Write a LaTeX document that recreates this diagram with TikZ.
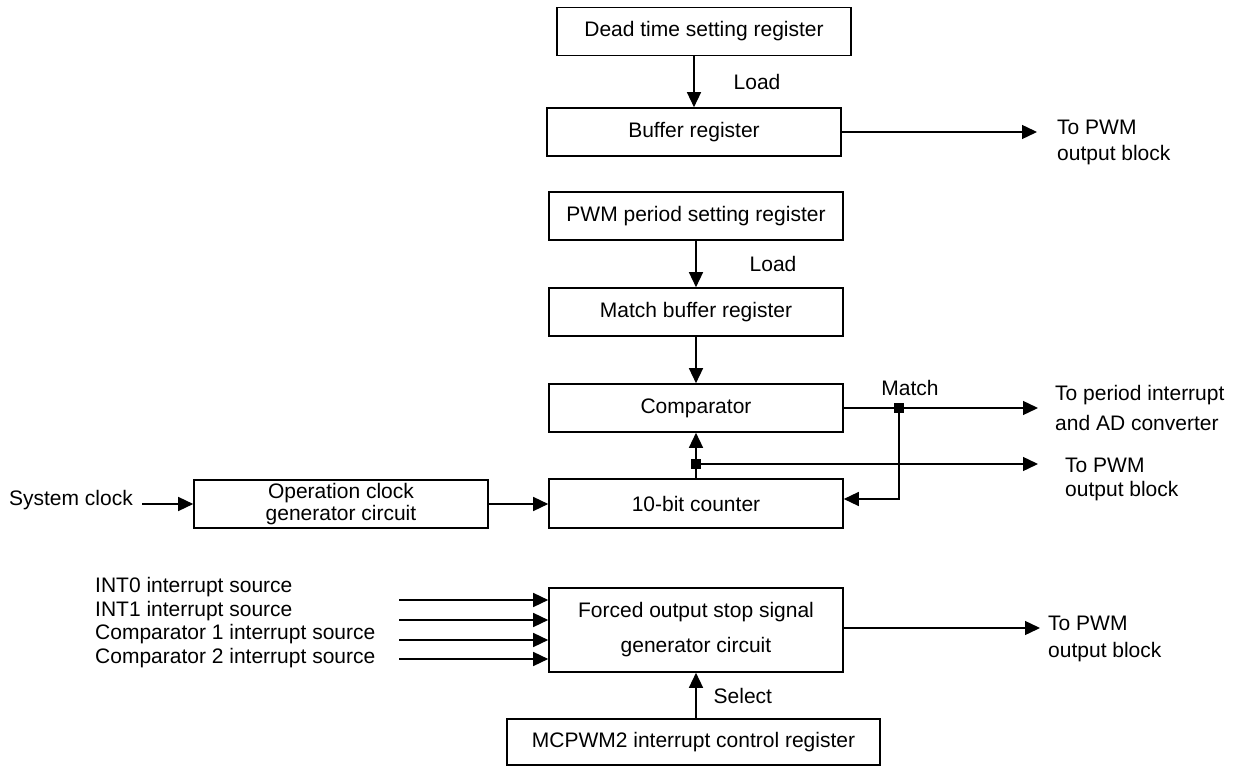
\documentclass[tikz,border=0pt]{standalone}
\usepackage{fontspec}
\setmainfont{Liberation Sans}
\usetikzlibrary{arrows.meta}
\begin{document}
\begin{tikzpicture}[x=1pt, y=-1pt,
  every node/.style={font=\fontsize{21}{24}\selectfont},
  blk/.style={draw, line width=1.6pt, minimum width=294pt, minimum height=48pt, inner sep=0pt, align=center},
  arr/.style={line width=1.4pt, -{Triangle[length=15pt, width=14pt]}},
  wire/.style={line width=1.4pt},
  dot/.style={fill, minimum size=10pt, inner sep=0pt},
  lbl/.style={inner sep=0pt, anchor=west, align=left}]
\useasboundingbox (0,0) rectangle (1243,767);

% register and circuit blocks
\node[blk] (dead)   at (704,31.5) {Dead time setting register};
\node[blk] (buf)    at (694,132)  {Buffer register};
\node[blk] (pwmp)   at (696,216)  {PWM period setting register};
\node[blk] (mbuf)   at (696,312)  {Match buffer register};
\node[blk] (comp)   at (696,408)  {Comparator};
\node[blk, minimum height=49pt] (cnt) at (696,503.5) {10-bit counter};
\node[blk, font=\fontsize{21}{21.5}\selectfont] (opclk) at (341,504) {Operation clock\\generator circuit};
\node[blk, minimum height=84pt, font=\fontsize{21}{35}\selectfont] (forced) at (696,630) {Forced output stop signal\\generator circuit};
\node[blk, minimum width=373pt, minimum height=46pt] (mcpwm) at (693.5,742) {MCPWM2 interrupt control register};

% dead time path
\draw[arr] (dead.south -| buf.north) -- node[right=39pt, inner sep=0pt] {Load} (buf.north);
\coordinate (bufout) at (1037,132);
\draw[arr] (buf.east) -- (bufout);
\node[lbl, font=\fontsize{21}{26}\selectfont] (bufl) at (1057,142) {To PWM\\output block};

% period path
\draw[arr] (pwmp.south) -- node[right=53pt, inner sep=0pt] {Load} (mbuf.north);
\draw[arr] (mbuf.south) -- (comp.north);

% comparator match output
\node[dot] (jm) at (899,408) {};
\node[inner sep=0pt] (matchl) at (910,388) {Match};
\coordinate (compout) at (1038,408);
\draw[wire] (comp.east) -- (jm);
\draw[arr] (jm) -- (compout);
\node[lbl, font=\fontsize{21}{30}\selectfont] (compl) at (1055,408) {To period interrupt\\and AD converter};
\coordinate (mback) at (899,499);
\draw[arr] (jm.center) -- (mback) -- (mback -| cnt.east);

% counter output
\node[dot] (jc) at (696,464) {};
\draw[arr] (cnt.north) -- (comp.south);
\coordinate (cntout) at (1038,464);
\draw[arr] (jc) -- (cntout);
\node[lbl, font=\fontsize{21}{24}\selectfont] (cntl) at (1065,479) {To PWM\\output block};

% clock chain
\node[inner sep=0pt, anchor=east] (sysclk) at (133,500) {System clock};
\coordinate (clkin) at (142,504);
\draw[arr] (clkin) -- (opclk.west);
\draw[arr] (opclk.east) -- (opclk.east -| cnt.west);

% forced output stop inputs
\node[lbl, font=\fontsize{21}{23.7}\selectfont] (srcs) at (95,622.5) {INT0 interrupt source\\INT1 interrupt source\\Comparator 1 interrupt source\\Comparator 2 interrupt source};
\foreach \yy/\nm in {600/a, 620/b, 640/c, 659/d} {
  \coordinate (in\nm) at (399,\yy);
  \draw[arr] (in\nm) -- (in\nm -| forced.west);
}
\coordinate (fout) at (1040,628);
\draw[arr] (forced.east |- fout) -- (fout);
\node[lbl, font=\fontsize{21}{27}\selectfont] (fl) at (1048,638.5) {To PWM\\output block};

% select path
\draw[arr] (mcpwm.north -| forced.south) -- node[right=17pt, inner sep=0pt] {Select} (forced.south);
\end{tikzpicture}
\end{document}
